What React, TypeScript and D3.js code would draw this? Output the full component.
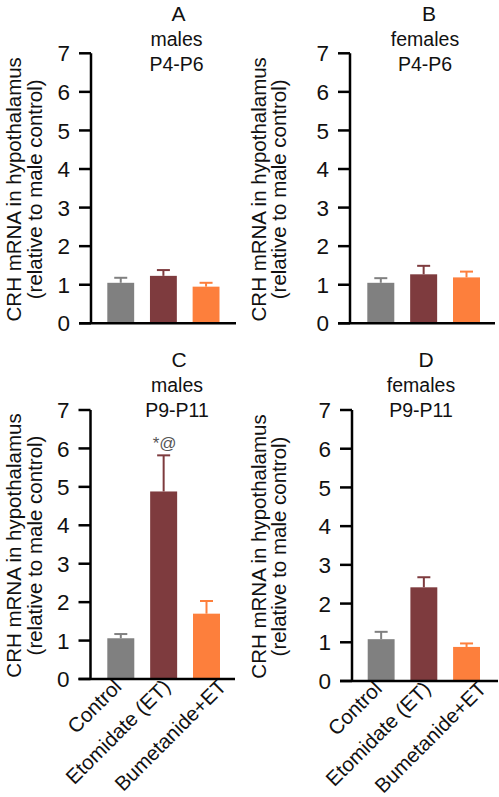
import React from "react";
import * as d3 from "d3";

const categories = ["Control", "Etomidate (ET)", "Bumetanide+ET"];
const panelLetters = ["A", "B", "C", "D"];
const panelSex = ["males", "females", "males", "females"];
const panelAge = ["P4-P6", "P4-P6", "P9-P11", "P9-P11"];
const meansA = [1.05, 1.23, 0.95];
const errA = [1.18, 1.38, 1.05];
const meansB = [1.05, 1.27, 1.19];
const errB = [1.17, 1.49, 1.34];
const meansC = [1.06, 4.88, 1.7];
const errC = [1.17, 5.82, 2.03];
const meansD = [1.08, 2.42, 0.88];
const errD = [1.27, 2.68, 0.97];
const yTicks = [0, 1, 2, 3, 4, 5, 6, 7];
const annotC = ["", "*@", ""];
const colors = ["#808080", "#7e3b3e", "#fd7f3c"];

const means = [meansA, meansB, meansC, meansD];
const errs = [errA, errB, errC, errD];
const annots = [["", "", ""], ["", "", ""], annotC, ["", "", ""]];
const labelShift = [2, 8, 21];

const FONT = "Liberation Sans, Arial, Helvetica, sans-serif";

type Layout = {
  axisX: number; axisEnd: number; barL: number; barR: number;
  y0: number; y7: number; titleX: number; letterX: number; titleTop: number;
  lab1: number; lab2: number;
};

const layouts: Layout[] = [
  { axisX: 91, axisEnd: 236, barL: 107.3, barR: 219.5, y0: 323.3, y7: 53.3, titleX: 176.5, letterX: 178.5, titleTop: 0, lab1: 21, lab2: 41.5 },
  { axisX: 350, axisEnd: 495, barL: 367.3, barR: 480, y0: 323.3, y7: 53.3, titleX: 425, letterX: 429, titleTop: 0, lab1: 266, lab2: 285.5 },
  { axisX: 90.5, axisEnd: 235, barL: 107.3, barR: 220, y0: 679, y7: 410, titleX: 177, letterX: 179, titleTop: 346, lab1: 21, lab2: 41.5 },
  { axisX: 352, axisEnd: 498, barL: 367.7, barR: 480, y0: 681, y7: 410, titleX: 421, letterX: 426, titleTop: 346, lab1: 266, lab2: 285.5 },
];

function Panel({ idx }: { idx: number }) {
  const L = layouts[idx];
  const y = d3.scaleLinear().domain([0, 7]).range([L.y0, L.y7]);
  const x = d3.scaleBand<string>().domain(categories).range([L.barL, L.barR]).paddingInner(0.37).paddingOuter(0);
  const bw = x.bandwidth();
  const m = means[idx];
  const e = errs[idx];
  const showX = idx >= 2;
  const midY = (L.y0 + L.y7) / 2 + 1;
  return (
    <g>
      <text x={L.letterX} y={L.titleTop + 20.5} textAnchor="middle" fontSize={21} fontFamily={FONT} fill="#111">{panelLetters[idx]}</text>
      <text x={L.titleX} y={L.titleTop + 45.5} textAnchor="middle" fontSize={19.5} fontFamily={FONT} fill="#111">{panelSex[idx]}</text>
      <text x={L.titleX} y={L.titleTop + 70.5} textAnchor="middle" fontSize={19.5} fontFamily={FONT} fill="#111">{panelAge[idx]}</text>
      <text transform={`translate(${L.lab1},${midY}) rotate(-90)`} textAnchor="middle" fontSize={20.5} fontFamily={FONT} fill="#111">CRH mRNA in hypothalamus</text>
      <text transform={`translate(${L.lab2},${midY}) rotate(-90)`} textAnchor="middle" fontSize={20.5} fontFamily={FONT} fill="#111">(relative to male control)</text>
      {categories.map((c, i) => {
        const bx = x(c)!;
        const cx = bx + bw / 2;
        return (
          <g key={c}>
            <line x1={cx} x2={cx} y1={y(m[i])} y2={y(e[i])} stroke={colors[i]} strokeWidth={2} />
            <line x1={cx - 6.5} x2={cx + 6.5} y1={y(e[i])} y2={y(e[i])} stroke={colors[i]} strokeWidth={2} />
            <rect x={bx} y={y(m[i])} width={bw} height={L.y0 - y(m[i])} fill={colors[i]} />
            {annots[idx][i] && (
              <text x={cx + 1} y={y(e[i]) - 6} textAnchor="middle" fontSize={17} fontFamily={FONT} fill="#555">{annots[idx][i]}</text>
            )}
            {showX && (
              <text transform={`translate(${cx + labelShift[i]},${L.y0 + 9}) rotate(-45)`} textAnchor="end" fontSize={20.5} fontFamily={FONT} fill="#111">{c}</text>
            )}
          </g>
        );
      })}
      <line x1={L.axisX} x2={L.axisX} y1={L.y7} y2={L.y0} stroke="#000" strokeWidth={2.5} />
      <line x1={L.axisX - 12} x2={L.axisEnd} y1={L.y0} y2={L.y0} stroke="#000" strokeWidth={2.5} />
      {yTicks.map((t) => (
        <g key={t}>
          <line x1={L.axisX - 12} x2={L.axisX} y1={y(t)} y2={y(t)} stroke="#000" strokeWidth={2.5} />
          <text x={L.axisX - 21} y={y(t)} dy="0.36em" textAnchor="end" fontSize={22.5} fontFamily={FONT} fill="#111">{t}</text>
        </g>
      ))}
    </g>
  );
}

export default function App() {
  return (
    <svg width={499} height={797} style={{ position: "absolute", left: 0, top: 0, background: "#fff" }}>
      <rect x={0} y={0} width={499} height={797} fill="#fff" />
      {[0, 1, 2, 3].map((i) => (
        <Panel key={i} idx={i} />
      ))}
    </svg>
  );
}
